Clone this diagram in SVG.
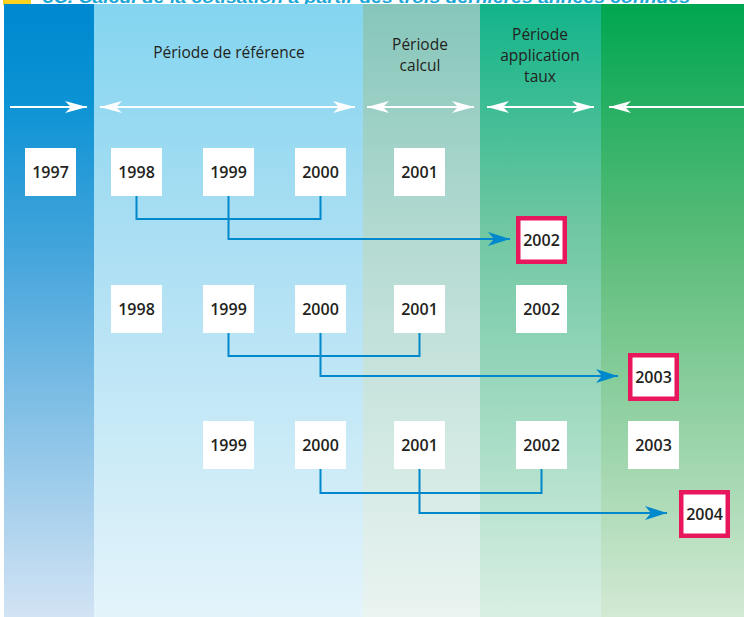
<svg xmlns="http://www.w3.org/2000/svg" width="744" height="617" viewBox="0 0 744 617">
<defs>
<linearGradient id="g1" x1="0" y1="4" x2="0" y2="617" gradientUnits="userSpaceOnUse">
<stop offset="0" stop-color="#0088d0"/><stop offset="0.15" stop-color="#0a92d4"/><stop offset="0.42" stop-color="#48a6dc"/><stop offset="1" stop-color="#d2e3f4"/></linearGradient>
<linearGradient id="g2" x1="0" y1="4" x2="0" y2="617" gradientUnits="userSpaceOnUse">
<stop offset="0" stop-color="#84d5f0"/><stop offset="0.4" stop-color="#acdff3"/><stop offset="1" stop-color="#e4f4fb"/></linearGradient>
<linearGradient id="g3" x1="0" y1="4" x2="0" y2="617" gradientUnits="userSpaceOnUse">
<stop offset="0" stop-color="#86c6ba"/><stop offset="0.4" stop-color="#b6dbd3"/><stop offset="1" stop-color="#eaf4f1"/></linearGradient>
<linearGradient id="g4" x1="0" y1="4" x2="0" y2="617" gradientUnits="userSpaceOnUse">
<stop offset="0" stop-color="#12b48a"/><stop offset="0.35" stop-color="#6cc6a0"/><stop offset="1" stop-color="#d9efe4"/></linearGradient>
<linearGradient id="g5" x1="0" y1="4" x2="0" y2="617" gradientUnits="userSpaceOnUse">
<stop offset="0" stop-color="#00a651"/><stop offset="0.4" stop-color="#5dbd7b"/><stop offset="1" stop-color="#d3e9d4"/></linearGradient>
<marker id="blueHead" markerUnits="userSpaceOnUse" markerWidth="24" markerHeight="16" refX="22" refY="8" orient="auto">
<path d="M22,8 L0,1 L6,8 L0,15 Z" fill="#0088cc"/></marker>
<marker id="whiteEnd" markerUnits="userSpaceOnUse" markerWidth="24" markerHeight="14" refX="22" refY="7" orient="auto">
<path d="M22,7 L0,1 L6,7 L0,13 Z" fill="#ffffff"/></marker>
<marker id="whiteStart" markerUnits="userSpaceOnUse" markerWidth="24" markerHeight="14" refX="0" refY="7" orient="auto">
<path d="M0,7 L22,1 L16,7 L22,13 Z" fill="#ffffff"/></marker>
</defs>
<style>
.yr{font-family:"Open Sans","Liberation Sans",sans-serif;font-size:16px;font-weight:600;fill:#231f20;text-anchor:middle}
.hd{font-family:"Open Sans","Liberation Sans",sans-serif;font-size:15.5px;font-weight:500;fill:#231f20;text-anchor:middle}
.box{fill:#ffffff}
.red{fill:#ffffff;stroke:#e8175d;stroke-width:4.5}
.con{fill:none;stroke:#0088cc;stroke-width:2}
.wa{fill:none;stroke:#ffffff;stroke-width:2.2}
</style>
<rect x="0" y="0" width="744" height="617" fill="#ffffff"/>
<g id="title">
<rect x="3" y="0" width="28" height="5" fill="#ffd21f"/>
<text x="43" y="2.5" font-family="Liberation Sans, sans-serif" font-size="16" font-weight="bold" font-style="italic" fill="#1aa7d6" textLength="647" lengthAdjust="spacingAndGlyphs">3C. Calcul de la cotisation à partir des trois dernières années connues</text>
</g>
<g id="columns">
<rect x="4" y="4" width="90" height="613" fill="url(#g1)"/>
<rect x="94" y="4" width="269" height="613" fill="url(#g2)"/>
<rect x="363" y="4" width="117" height="613" fill="url(#g3)"/>
<rect x="480" y="4" width="121" height="613" fill="url(#g4)"/>
<rect x="601" y="4" width="143" height="613" fill="url(#g5)"/>
</g>
<g id="headers">
<text class="hd" x="229" y="58">Période de référence</text>
<text class="hd" x="420" y="50">Période</text>
<text class="hd" x="420" y="71">calcul</text>
<text class="hd" x="540" y="40">Période</text>
<text class="hd" x="540" y="61">application</text>
<text class="hd" x="540" y="82">taux</text>
</g>
<g id="period-arrows">
<line class="wa" x1="10" y1="107" x2="87" y2="107" marker-end="url(#whiteEnd)"/>
<line class="wa" x1="100" y1="107" x2="355" y2="107" marker-start="url(#whiteStart)" marker-end="url(#whiteEnd)"/>
<line class="wa" x1="367" y1="107" x2="474" y2="107" marker-start="url(#whiteStart)" marker-end="url(#whiteEnd)"/>
<line class="wa" x1="487" y1="107" x2="594" y2="107" marker-start="url(#whiteStart)" marker-end="url(#whiteEnd)"/>
<line class="wa" x1="609" y1="107" x2="744" y2="107" marker-start="url(#whiteStart)"/>
</g>
<g id="connectors">
<polyline class="con" points="136.5,196 136.5,219 320.5,219 320.5,196"/>
<polyline class="con" points="228.5,196 228.5,239 510,239" marker-end="url(#blueHead)"/>
<polyline class="con" points="228.5,333 228.5,356 419.5,356 419.5,333"/>
<polyline class="con" points="320.5,333 320.5,376 618,376" marker-end="url(#blueHead)"/>
<polyline class="con" points="320.5,469 320.5,493 541.5,493 541.5,469"/>
<polyline class="con" points="419.5,469 419.5,513 667,513" marker-end="url(#blueHead)"/>
</g>
<g id="row1">
<g id="r1-1997"><rect class="box" x="25" y="148" width="51" height="48"/><text class="yr" x="50.5" y="177.5">1997</text></g>
<g id="r1-1998"><rect class="box" x="111" y="148" width="51" height="48"/><text class="yr" x="136.5" y="177.5">1998</text></g>
<g id="r1-1999"><rect class="box" x="203" y="148" width="51" height="48"/><text class="yr" x="228.5" y="177.5">1999</text></g>
<g id="r1-2000"><rect class="box" x="295" y="148" width="51" height="48"/><text class="yr" x="320.5" y="177.5">2000</text></g>
<g id="r1-2001"><rect class="box" x="394" y="148" width="51" height="48"/><text class="yr" x="419.5" y="177.5">2001</text></g>
<g id="r1-2002"><rect class="red" x="518.25" y="218.25" width="46.5" height="43.5"/><text class="yr" x="541.5" y="245.5">2002</text></g>
</g>
<g id="row2">
<g id="r2-1998"><rect class="box" x="111" y="285" width="51" height="48"/><text class="yr" x="136.5" y="314.5">1998</text></g>
<g id="r2-1999"><rect class="box" x="203" y="285" width="51" height="48"/><text class="yr" x="228.5" y="314.5">1999</text></g>
<g id="r2-2000"><rect class="box" x="295" y="285" width="51" height="48"/><text class="yr" x="320.5" y="314.5">2000</text></g>
<g id="r2-2001"><rect class="box" x="394" y="285" width="51" height="48"/><text class="yr" x="419.5" y="314.5">2001</text></g>
<g id="r2-2002"><rect class="box" x="516" y="285" width="51" height="48"/><text class="yr" x="541.5" y="314.5">2002</text></g>
<g id="r2-2003"><rect class="red" x="630.25" y="355.25" width="46.5" height="43.5"/><text class="yr" x="653.5" y="382.5">2003</text></g>
</g>
<g id="row3">
<g id="r3-1999"><rect class="box" x="203" y="421" width="51" height="48"/><text class="yr" x="228.5" y="450.5">1999</text></g>
<g id="r3-2000"><rect class="box" x="295" y="421" width="51" height="48"/><text class="yr" x="320.5" y="450.5">2000</text></g>
<g id="r3-2001"><rect class="box" x="394" y="421" width="51" height="48"/><text class="yr" x="419.5" y="450.5">2001</text></g>
<g id="r3-2002"><rect class="box" x="516" y="421" width="51" height="48"/><text class="yr" x="541.5" y="450.5">2002</text></g>
<g id="r3-2003"><rect class="box" x="628" y="421" width="51" height="48"/><text class="yr" x="653.5" y="450.5">2003</text></g>
<g id="r3-2004"><rect class="red" x="681.25" y="492.25" width="46.5" height="43.5"/><text class="yr" x="704.5" y="519.5">2004</text></g>
</g>
</svg>
